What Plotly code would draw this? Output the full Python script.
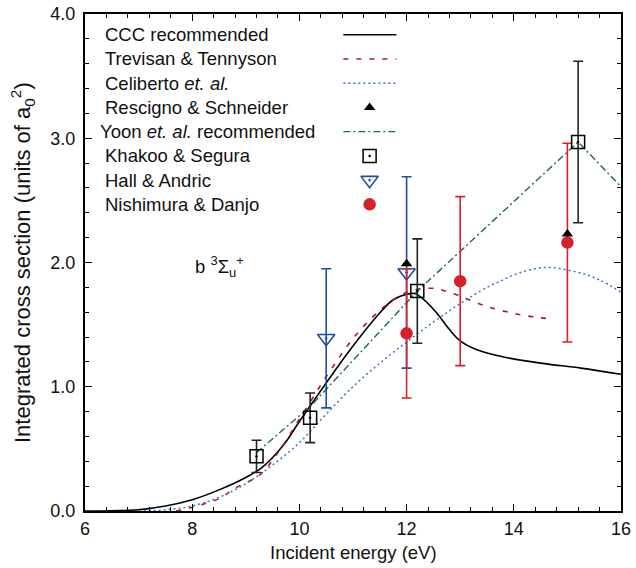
import plotly.graph_objects as go

# ---------------- data ----------------
ccc_x = [6.0, 6.5, 7.0, 7.5, 8.0, 8.5, 9.0, 9.3, 9.7, 10.0, 10.5, 10.95, 11.45, 11.75, 12.0, 12.15,
         12.3, 12.55, 12.8, 13.0, 13.3, 13.75, 14.5, 15.25, 16.0]
ccc_y = [0.0, 0.002, 0.01, 0.04, 0.09, 0.17, 0.27, 0.35, 0.53, 0.72, 1.03, 1.30, 1.57, 1.70, 1.745, 1.75,
         1.71, 1.60, 1.46, 1.37, 1.30, 1.245, 1.19, 1.15, 1.10]

tt_x = [7.7, 8.0, 8.5, 8.83, 9.26, 9.6, 10.0, 10.5, 10.95, 11.25, 11.6, 12.0, 12.3, 12.55, 12.72, 13.0,
        13.47, 14.0, 14.4, 14.6]
tt_y = [0.0, 0.03, 0.10, 0.19, 0.29, 0.47, 0.74, 1.08, 1.36, 1.51, 1.65, 1.76, 1.79, 1.79, 1.77, 1.73,
        1.65, 1.59, 1.56, 1.55]

cel_x = [7.0, 7.5, 8.0, 8.5, 9.0, 9.5, 10.0, 10.5, 11.0, 11.5, 12.0, 12.5, 13.0, 13.5, 13.75, 14.0,
         14.55, 15.2, 15.6, 16.0]
cel_y = [0.0, 0.01, 0.04, 0.11, 0.22, 0.37, 0.55, 0.78, 1.00, 1.19, 1.36, 1.52, 1.67, 1.80, 1.85, 1.90,
         1.96, 1.92, 1.86, 1.76]

yoon_x = [9.2, 10.2, 12.2, 15.2, 16.0]
yoon_y = [0.47, 0.84, 1.77, 2.97, 2.61]

res_x = [12.0, 15.0]
res_y = [1.99, 2.23]

kha_x = [9.2, 10.2, 12.2, 15.2]
kha_y = [0.44, 0.75, 1.77, 2.97]
kha_err = [0.13, 0.20, 0.42, 0.65]

hall_x = [10.5, 12.0]
hall_y = [1.39, 1.92]
hall_err = [0.56, 0.77]

nis_x = [12.0, 13.0, 15.0]
nis_y = [1.43, 1.85, 2.16]
nis_err = [0.52, 0.68, 0.80]

legend_labels = ["CCC recommended", "Trevisan & Tennyson", "Celiberto <i>et. al.</i>",
                 "Rescigno & Schneider", "Yoon <i>et. al.</i> recommended", "Khakoo & Segura",
                 "Hall & Andric", "Nishimura & Danjo"]

x_ticks = [6, 8, 10, 12, 14, 16]
y_ticks = [0, 1, 2, 3, 4]

# ---------------- styles ----------------
BLACK = "#000000"
RED_D = "#b0182a"
BLUE_D = "#3d74c8"
GREEN = "#1e6b45"
BLUE = "#1a4fa6"
RED = "#d8202a"
TXT = "#111111"
FONT = "Liberation Sans, Arial, sans-serif"

fig = go.Figure()

fig.add_trace(go.Scatter(x=ccc_x, y=ccc_y, mode="lines", line=dict(color=BLACK, width=1.6, shape="spline"),
                         showlegend=False))
fig.add_trace(go.Scatter(x=tt_x, y=tt_y, mode="lines",
                         line=dict(color=RED_D, width=1.6, dash="5px,8px", shape="spline"), showlegend=False))
fig.add_trace(go.Scatter(x=cel_x, y=cel_y, mode="lines",
                         line=dict(color=BLUE_D, width=1.5, dash="2px,3px", shape="spline"), showlegend=False))
fig.add_trace(go.Scatter(x=yoon_x, y=yoon_y, mode="lines",
                         line=dict(color=GREEN, width=1.4, dash="7px,3px,2px,3px"), showlegend=False))

fig.add_trace(go.Scatter(x=hall_x, y=hall_y, mode="markers",
                         marker=dict(symbol="triangle-down-open-dot", size=15, color=BLUE, line=dict(width=1.6)),
                         error_y=dict(type="data", array=hall_err, color=BLUE, thickness=1.6, width=5),
                         showlegend=False))
fig.add_trace(go.Scatter(x=nis_x, y=nis_y, mode="markers",
                         marker=dict(symbol="circle", size=12.5, color=RED),
                         error_y=dict(type="data", array=nis_err, color=RED, thickness=1.6, width=5),
                         showlegend=False))
fig.add_trace(go.Scatter(x=kha_x, y=kha_y, mode="markers",
                         marker=dict(symbol="square-open-dot", size=13, color=BLACK, line=dict(width=1.5)),
                         error_y=dict(type="data", array=kha_err, color="#222222", thickness=1.6, width=5),
                         showlegend=False))
fig.add_trace(go.Scatter(x=res_x, y=res_y, mode="markers",
                         marker=dict(symbol="triangle-up", size=10, color=BLACK),
                         showlegend=False))

# ---------------- custom legend (text left, sample right) ----------------
leg_text_x = 6.33
leg_line_x = [10.82, 11.81]
leg_mark_x = 11.31
leg_y0 = 3.833
leg_dy = 0.195
leg_y = [leg_y0 - leg_dy * i for i in range(len(legend_labels))]

for i, lab in enumerate(legend_labels):
    fig.add_annotation(x=leg_text_x - (0.09 if i == 4 else 0.0), y=leg_y[i], text=lab, showarrow=False,
                       xanchor="left", yanchor="middle", font=dict(family=FONT, size=18.5, color=TXT))

line_styles = {0: dict(color=BLACK, width=1.6),
               1: dict(color=RED_D, width=1.6, dash="5px,8px"),
               2: dict(color=BLUE_D, width=1.5, dash="2px,3px"),
               4: dict(color=GREEN, width=1.4, dash="7px,3px,2px,3px")}
for i, st in line_styles.items():
    fig.add_trace(go.Scatter(x=leg_line_x, y=[leg_y[i], leg_y[i]], mode="lines", line=st,
                             showlegend=False, hoverinfo="skip"))

mark_styles = {3: dict(symbol="triangle-up", size=10, color=BLACK),
               5: dict(symbol="square-open-dot", size=13, color=BLACK, line=dict(width=1.5)),
               6: dict(symbol="triangle-down-open-dot", size=15, color=BLUE, line=dict(width=1.6)),
               7: dict(symbol="circle", size=12.5, color=RED)}
for i, mk in mark_styles.items():
    fig.add_trace(go.Scatter(x=[leg_mark_x], y=[leg_y[i]], mode="markers", marker=mk,
                             showlegend=False, hoverinfo="skip"))

fig.add_annotation(x=8.02, y=1.97, text="b <sup>3</sup>Σ<sub>u</sub><sup>+</sup>", showarrow=False,
                   xanchor="left", yanchor="middle", font=dict(family=FONT, size=18.5, color=TXT))

# axis titles as annotations for precise placement
fig.add_annotation(xref="paper", yref="paper", x=0.5, y=-0.083, text="Incident energy (eV)",
                   showarrow=False, xanchor="center", yanchor="middle",
                   font=dict(family=FONT, size=18.5, color=TXT))
fig.add_annotation(xref="paper", yref="paper", x=-0.1166, y=0.5,
                   text="Integrated cross section (units of a<sub>0</sub><sup>2</sup>)",
                   textangle=-90, showarrow=False, xanchor="center", yanchor="middle",
                   font=dict(family=FONT, size=22, color=TXT))

axis_common = dict(showgrid=False, zeroline=False, showline=True, linecolor="black", linewidth=2,
                   ticks="inside", ticklen=7, tickwidth=1, tickcolor="black", automargin=False,
                   ticklabeloverflow="allow", tickfont=dict(family=FONT, size=18, color=TXT))
xminor = dict(dtick=0.4, ticks="inside", ticklen=4, tickcolor="black", tickwidth=1)
yminor = dict(dtick=0.2, ticks="inside", ticklen=4, tickcolor="black", tickwidth=1)

fig.update_layout(
    xaxis=dict(range=[6, 16], tickvals=x_ticks, ticktext=[str(v) for v in x_ticks], minor=xminor,
               **axis_common),
    yaxis=dict(range=[0, 4], tickvals=y_ticks, ticktext=["%.1f" % v for v in y_ticks], minor=yminor,
               ticklabelstandoff=4, **axis_common),
    xaxis2=dict(range=[6, 16], overlaying="x", side="top", tickvals=x_ticks, showticklabels=False,
                minor=xminor, **axis_common),
    yaxis2=dict(range=[0, 4], overlaying="y", side="right", tickvals=y_ticks, showticklabels=False,
                minor=yminor, **axis_common),
)
# empty trace to activate the mirror axes
fig.add_trace(go.Scatter(x=[None], y=[None], xaxis="x2", yaxis="y2", showlegend=False, hoverinfo="skip"))

fig.update_layout(width=636, height=568, margin=dict(l=84.5, r=15.3, t=14, b=57.3),
                  plot_bgcolor="white", paper_bgcolor="white", showlegend=False,
                  font=dict(family=FONT))

# remove the default page margin so the figure fills the window exactly
fig.write_html("out.html", config={"displayModeBar": False},
               post_script="document.body.style.margin='0px';")
